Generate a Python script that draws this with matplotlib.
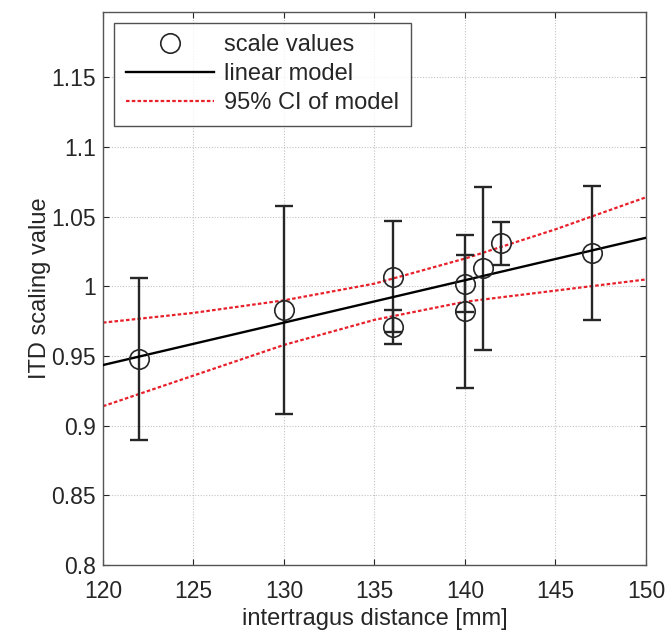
import numpy as np
import matplotlib
matplotlib.use("Agg")
import matplotlib.pyplot as plt

plt.rcParams['font.family'] = ['Liberation Sans', 'DejaVu Sans']

# Measured ITD scaling values per subject (with error bar half-widths)
distance_mm = np.array([122, 130, 136, 136, 140, 140, 141, 142, 147])
scale_value = np.array([0.948, 0.983, 1.007, 0.971, 1.002, 0.982, 1.013, 1.031, 1.024])
scale_err = np.array([0.058, 0.0745, 0.040, 0.012, 0.0205, 0.055, 0.0584, 0.0156, 0.0478])

# 95% confidence bounds of the regression model
ci_x = np.array([120, 125, 130, 135, 140, 145, 150])
ci_upper = np.array([0.974, 0.981, 0.990, 1.002, 1.020, 1.041, 1.064])
ci_lower = np.array([0.914, 0.936, 0.958, 0.976, 0.989, 0.997, 1.005])

x_ticks = [120, 125, 130, 135, 140, 145, 150]
y_ticks = [0.8, 0.85, 0.9, 0.95, 1.0, 1.05, 1.1, 1.15]
y_tick_labels = ['0.8', '0.85', '0.9', '0.95', '1', '1.05', '1.1', '1.15']

# Least-squares linear model through the scale values
slope, intercept = np.polyfit(distance_mm, scale_value, 1)
model_x = np.array([120.0, 150.0])
model_y = intercept + slope * model_x

fig = plt.figure(figsize=(6.69, 6.37), dpi=100)
ax = fig.add_axes([0.15396, 0.11303, 0.81166, 0.8681])

edge = '#262626'
ax.errorbar(distance_mm, scale_value, yerr=scale_err, fmt='none',
            ecolor=edge, elinewidth=1.7, capsize=6.5, capthick=1.7, zorder=3)
ax.plot(distance_mm, scale_value, 'o', ms=14, mfc='none', mec=edge,
        mew=1.2, label='scale values', zorder=4)
ax.plot(model_x, model_y, '-', color='black', lw=1.7, label='linear model', zorder=3)
ax.plot(ci_x, ci_upper, color='#e8202a', lw=1.6, ls=(0, (1.6, 1.0)),
        label='95% CI of model', zorder=2)
ax.plot(ci_x, ci_lower, color='#e8202a', lw=1.6, ls=(0, (1.6, 1.0)), zorder=2)

ax.set_xlim(120, 150)
ax.set_ylim(0.8, 1.197)
ax.set_xticks(x_ticks)
ax.set_yticks(y_ticks)
ax.set_yticklabels(y_tick_labels)
ax.tick_params(direction='in', top=True, right=True, length=4, width=0.8,
               colors=edge, labelsize=16.5)
ax.tick_params(axis='x', pad=11)
ax.tick_params(axis='y', pad=5)
ax.grid(True, color='#c4c4c4', ls=(0, (1, 1.5)), lw=0.8)
ax.set_axisbelow(True)
for s in ax.spines.values():
    s.set_color('#555555')
    s.set_linewidth(1.0)

ax.set_xlabel('intertragus distance [mm]', fontsize=17, color=edge, labelpad=3.5)
ax.set_ylabel('ITD scaling value', fontsize=17, color=edge, labelpad=0.5)

leg = ax.legend(loc='upper left', bbox_to_anchor=(0.021, 0.981), borderaxespad=0,
                fontsize=17, frameon=True, fancybox=False, handlelength=3.7,
                handletextpad=0.45, labelspacing=0.3, borderpad=0.5)
leg.get_frame().set_edgecolor(edge)
leg.get_frame().set_linewidth(1.0)
for t in leg.get_texts():
    t.set_color(edge)

fig.savefig('out.png', dpi=100)
